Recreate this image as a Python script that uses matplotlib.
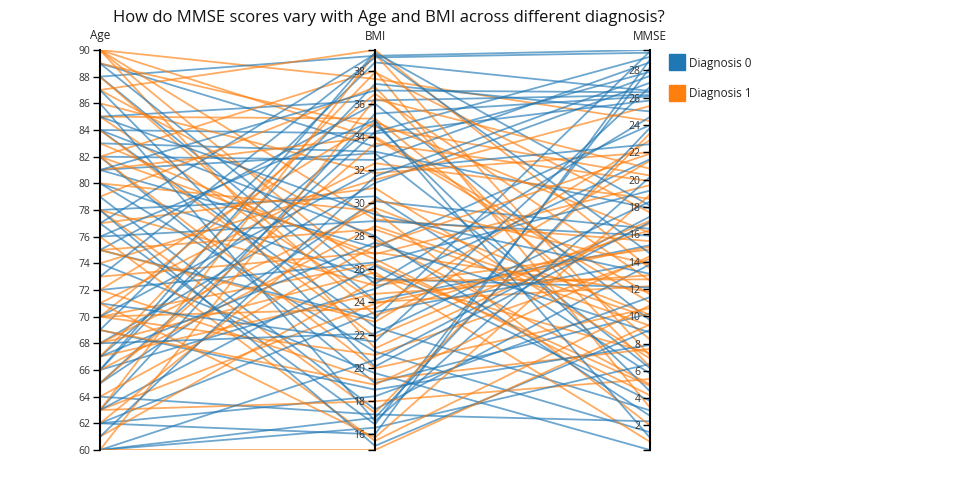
import matplotlib
matplotlib.use("Agg")
import matplotlib.pyplot as plt
from matplotlib.lines import Line2D
import numpy as np

plt.rcParams["font.family"] = ["Open Sans", "DejaVu Sans"]

dimensions = ["Age", "BMI", "MMSE"]
legend_labels = ["Diagnosis 0", "Diagnosis 1"]
colors = ["#1f77b4", "#ff7f0e"]

# rows: age, bmi, mmse
diag0_age = [89, 88, 88, 85, 84, 84, 83, 82, 82, 81, 81, 80, 80, 79, 78, 77, 76, 75,
             75, 74, 72, 69, 69, 68, 67, 66, 66, 66, 65, 65, 64, 63, 62, 62, 62, 60,
             60, 60, 89, 84, 77, 71, 67, 86, 73, 63, 70, 78, 85, 61, 87, 76, 81, 68]
diag0_bmi = [33.4, 38.9, 24.1, 36.2, 34.2, 22.5, 33.1, 32.6, 19.1, 27.3, 33.0, 25.4,
             21.0, 17.5, 30.4, 16.6, 28.9, 23.0, 36.0, 19.7, 26.4, 38.5, 18.7, 31.2,
             34.8, 39.1, 37.2, 24.8, 34.3, 30.1, 17.2, 35.4, 23.4, 16.0, 18.3, 17.0,
             16.4, 20.5, 25.1, 28.0, 39.0, 21.6, 27.6, 16.8, 38.8, 26.2, 32.0, 15.3,
             29.3, 31.6, 20.1, 35.0, 36.8, 22.1]
diag0_mmse = [27.9, 29.5, 15.2, 26.2, 25.8, 3.1, 17.9, 28.6, 10.2, 24.0, 6.2, 12.1,
              1.5, 13.8, 5.8, 28.2, 15.9, 29.4, 9.7, 0.2, 19.2, 26.5, 7.9, 27.1,
              4.5, 18.1, 25.0, 21.5, 29.0, 16.4, 2.3, 26.1, 14.0, 28.8, 11.4, 23.8,
              6.5, 17.3, 24.6, 2.7, 14.6, 26.8, 8.8, 20.2, 29.3, 3.8, 22.6, 9.0,
              13.1, 27.6, 16.9, 1.1, 26.4, 18.4]

diag1_age = [90, 90, 90, 90, 90, 89, 87, 87, 86, 85, 85, 82, 82, 82, 78, 78, 77, 75,
             75, 73, 72, 72, 71, 70, 70, 70, 70, 68, 68, 67, 67, 65, 63, 63, 63, 61,
             60, 76, 80, 84, 74, 66, 88, 69, 79, 64, 81, 62, 83, 71, 60]
diag1_bmi = [37.5, 29.0, 33.9, 25.6, 21.2, 34.6, 39.25, 27.8, 31.8, 35.1, 24.0, 26.9,
             20.0, 38.0, 25.0, 17.3, 30.9, 28.4, 22.8, 27.0, 34.9, 19.3, 32.4, 36.6,
             26.3, 23.6, 20.8, 29.7, 25.8, 37.9, 24.5, 33.6, 39.0, 23.9, 18.0, 25.3,
             36.3, 15.6, 29.5, 21.9, 31.4, 28.6, 23.2, 19.0, 37.0, 27.4, 34.0, 30.2,
             26.6, 15.8, 15.05]
diag1_mmse = [24.3, 15.5, 11.0, 7.3, 16.8, 20.3, 13.5, 5.0, 22.0, 8.3, 12.2, 19.6,
              10.6, 3.3, 14.9, 23.4, 6.9, 9.3, 21.4, 11.8, 16.1, 7.6, 18.6, 12.6,
              4.9, 22.9, 14.2, 10.1, 0.8, 17.6, 13.0, 19.9, 7.1, 15.1, 5.4, 12.7,
              20.8, 10.8, 2.0, 17.0, 25.4, 9.9, 16.3, 14.4, 6.3, 21.9, 11.6, 13.8,
              4.2, 18.9, 9.4]

groups = [
    (np.array([diag0_age, diag0_bmi, diag0_mmse], dtype=float), colors[0]),
    (np.array([diag1_age, diag1_bmi, diag1_mmse], dtype=float), colors[1]),
]

all_values = np.hstack([g[0] for g in groups])
lows = all_values.min(axis=1)
highs = all_values.max(axis=1)

fig = plt.figure(figsize=(9.6, 5.0), dpi=100)
W, H = 960, 500
left_px, right_px, top_px, bottom_px = 100, 650, 50, 450
ax = fig.add_axes([left_px / W, 1 - bottom_px / H, (right_px - left_px) / W,
                   (bottom_px - top_px) / H])
ax.set_xlim(0, len(dimensions) - 1)
ax.set_ylim(0, 1)
ax.axis("off")

xs = np.arange(len(dimensions))
# interleave the two groups so neither sits fully on top
n_max = max(g[0].shape[1] for g in groups)
for i in range(n_max):
    for values, color in groups:
        if i < values.shape[1]:
            norm = (values[:, i] - lows) / (highs - lows)
            ax.plot(xs, norm, color=color, alpha=0.65, lw=1.3, solid_capstyle="butt")

tick_sets = [np.arange(60, 91, 2), np.arange(16, 39, 2), np.arange(2, 29, 2)]
for k, name in enumerate(dimensions):
    x_px = left_px + k * (right_px - left_px) / (len(dimensions) - 1)
    sub = fig.add_axes([x_px / W, 1 - bottom_px / H, 0.0001, (bottom_px - top_px) / H])
    sub.set_ylim(lows[k], highs[k])
    sub.patch.set_visible(False)
    for side in ["top", "right", "bottom"]:
        sub.spines[side].set_visible(False)
    sub.spines["left"].set_linewidth(1.5)
    sub.spines["left"].set_color("black")
    sub.set_xticks([])
    sub.set_yticks(tick_sets[k])
    sub.set_yticklabels([str(t) for t in tick_sets[k]])
    sub.set_yticks([lows[k], highs[k]], minor=True)
    sub.tick_params(axis="y", which="major", length=5, width=1, pad=2,
                    labelsize=7.5, labelcolor="#333333", color="black")
    sub.tick_params(axis="y", which="minor", length=5, width=1, color="black")
    fig.text(x_px / W, 1 - 36 / H, name, ha="center", va="center",
             fontsize=8.5, color="#222222")

fig.text(389 / W, 1 - 18 / H,
         "How do MMSE scores vary with Age and BMI across different diagnosis?",
         ha="center", va="center", fontsize=12, color="#111111")

handles = [Line2D([0], [0], marker="s", color="w", markerfacecolor=c,
                  markeredgecolor=c, markersize=11, lw=0) for c in colors]
fig.legend(handles, legend_labels, loc="upper left", bbox_to_anchor=(659 / W, 1 - 46 / H),
           frameon=False, fontsize=8.5, handletextpad=0.4, labelspacing=1.45,
           handlelength=1.2, labelcolor="#222222")

fig.savefig("out.png", dpi=100)
